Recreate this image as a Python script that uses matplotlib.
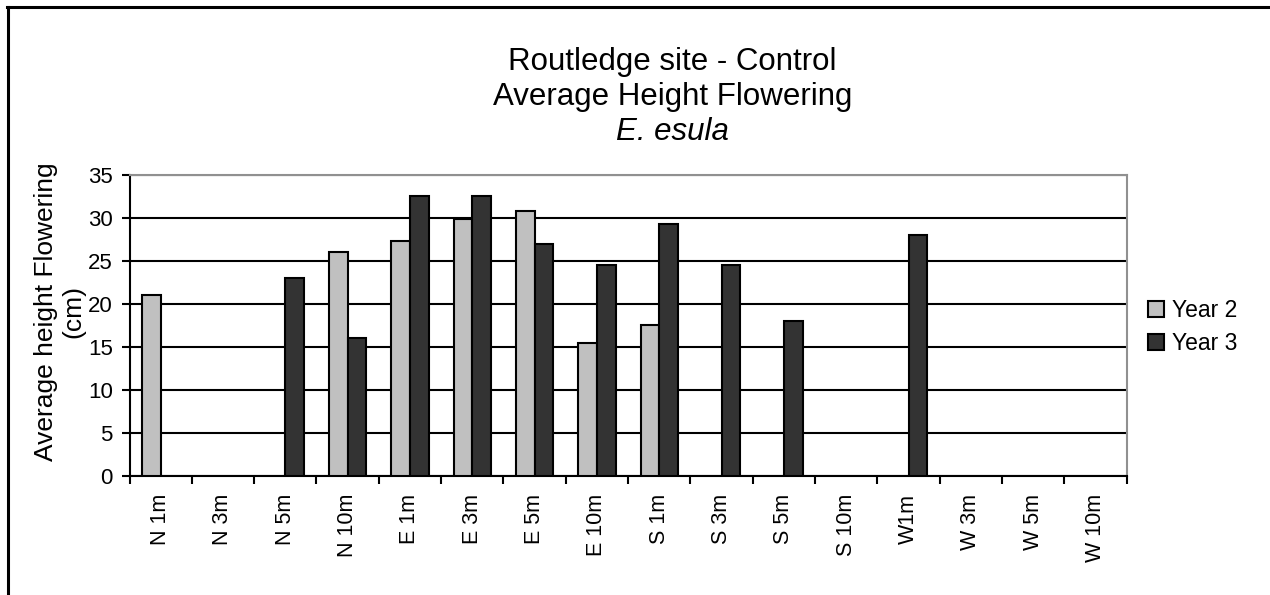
import matplotlib
matplotlib.use("Agg")
import matplotlib.pyplot as plt
import numpy as np
from matplotlib.lines import Line2D

plt.rcParams['font.family'] = ['Liberation Sans', 'DejaVu Sans']

categories = ["N 1m", "N 3m", "N 5m", "N 10m", "E 1m", "E 3m", "E 5m", "E 10m",
              "S 1m", "S 3m", "S 5m", "S 10m", "W1m", "W 3m", "W 5m", "W 10m"]
year2 = [21, 0, 0, 26, 27.3, 29.8, 30.8, 15.5, 17.5, 0, 0, 0, 0, 0, 0, 0]
year3 = [0, 0, 23, 16, 32.5, 32.5, 27, 24.5, 29.3, 24.5, 18, 0, 28, 0, 0, 0]
series_names = ["Year 2", "Year 3"]
colors = ["#c0c0c0", "#333333"]
yticks = [0, 5, 10, 15, 20, 25, 30, 35]

W, H = 1270, 595
fig = plt.figure(figsize=(W/100, H/100), dpi=100)
ax = fig.add_axes([129.5/W, 1-476/H, (1126.7-129.5)/W, (476-174.7)/H])

x = np.arange(len(categories))
bw = 0.3
for vals, name, col, off in [(year2, series_names[0], colors[0], -bw/2),
                              (year3, series_names[1], colors[1], bw/2)]:
    v = np.array(vals, dtype=float)
    mask = v > 0
    ax.bar(x[mask] + off, v[mask], width=bw, color=col, edgecolor='black',
           linewidth=1.5, zorder=3, label=name)

ax.set_xlim(-0.5, len(categories) - 0.5)
ax.set_ylim(0, 35)
ax.set_yticks(yticks)
ax.yaxis.grid(True, color='black', linewidth=1.5, zorder=0)
ax.set_axisbelow(True)

# category boundary ticks
ax.set_xticks(np.arange(-0.5, len(categories), 1.0))
ax.set_xticklabels([])
ax.set_xticks(x, minor=True)
ax.set_xticklabels(categories, minor=True, rotation=90, fontsize=15.5, va='top')
ax.tick_params(axis='x', which='minor', length=0, pad=13)
ax.tick_params(axis='x', which='major', direction='out', length=6, width=1.5)
ax.tick_params(axis='y', direction='out', length=6, width=1.5, labelsize=16, pad=6)

for s in ['left', 'bottom']:
    ax.spines[s].set_color('black')
    ax.spines[s].set_linewidth(1.5)
for s in ['top', 'right']:
    ax.spines[s].set_color('#909090')
    ax.spines[s].set_linewidth(1.5)

ax.set_ylabel("Average height Flowering\n(cm)", fontsize=19, labelpad=2, linespacing=1.15)
ax.yaxis.label.set_y(0.545)

fig.text(0.5295, 1-62/H, "Routledge site - Control", ha='center', va='center', fontsize=22.5)
fig.text(0.5295, 1-97/H, "Average Height Flowering", ha='center', va='center', fontsize=22.5)
fig.text(0.5295, 1-132/H, "E. esula", ha='center', va='center', fontsize=22.5, style='italic')

handles = [Line2D([], [], marker='s', linestyle='none', markersize=11,
                  markerfacecolor=c, markeredgecolor='black', markeredgewidth=1.5)
           for c in colors]
fig.legend(handles, series_names, loc='center left', bbox_to_anchor=(1146/W, 1-327/H),
           frameon=False, fontsize=16.5, handletextpad=0.25, handlelength=0.9,
           labelspacing=0.45, borderaxespad=0, borderpad=0)

# chart area border (top and left visible)
fig.add_artist(Line2D([7/W, 1.0], [1-6.5/H, 1-6.5/H], color='black', linewidth=2.2,
                      transform=fig.transFigure))
fig.add_artist(Line2D([7.5/W, 7.5/W], [0, 1-6.5/H], color='black', linewidth=2.2,
                      transform=fig.transFigure))

fig.savefig("out.png", dpi=100)
